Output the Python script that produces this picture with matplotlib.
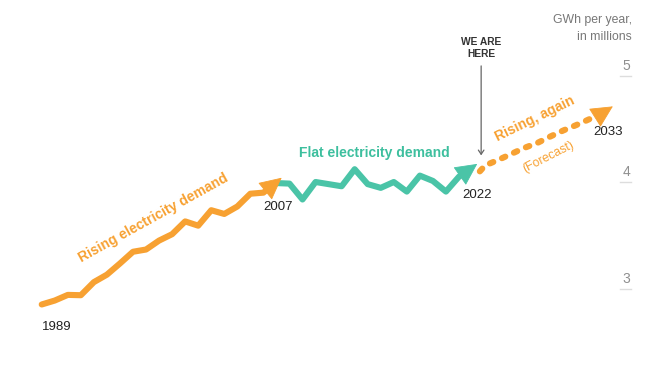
import matplotlib.pyplot as plt

# GWh per year, in millions
rising_years = list(range(1989, 2008))
rising_vals = [2.85, 2.887, 2.94, 2.937, 3.06, 3.13, 3.235, 3.345, 3.366, 3.45,
               3.51, 3.63, 3.59, 3.735, 3.70, 3.77, 3.89, 3.90, 3.99]

flat_years = list(range(2007, 2023))
flat_vals = [3.99, 3.985, 3.836, 4.00, 3.98, 3.96, 4.12, 3.98, 3.945, 4.00,
             3.91, 4.06, 4.01, 3.91, 4.05, 4.12]

forecast_years = list(range(2022, 2034))
forecast_vals = [4.12, 4.155, 4.207, 4.263, 4.32, 4.366, 4.427, 4.484, 4.535,
                 4.59, 4.648, 4.71]

y_ticks = [3, 4, 5]
year_labels = ['1989', '2007', '2022', '2033']

ORANGE = '#F7A132'
TEAL = '#4AC4A7'

plt.rcParams['font.family'] = ['Liberation Sans', 'DejaVu Sans']

fig = plt.figure(figsize=(6.65, 3.78), dpi=100)
ax = fig.add_axes([0, 0, 1, 1])
ax.set_xlim(1985.80, 2036.80)
ax.set_ylim(2.1596, 5.709)
ax.axis('off')

lw = 4.4


def series(xs, ys, color, tip_dx, tip_dy, **style):
    # line up to part of the last segment, then a small filled head to the tip
    x0, y0 = xs[-2], ys[-2]
    x1, y1 = xs[-1] + tip_dx, ys[-1] + tip_dy
    xm, ym = x0 + (x1 - x0) * 0.3, y0 + (y1 - y0) * 0.3
    ax.plot(list(xs[:-1]) + [xm], list(ys[:-1]) + [ym], color=color, lw=lw, **style)
    ax.annotate('', xy=(x1, y1), xytext=(xm, ym),
                arrowprops=dict(arrowstyle='-|>,head_length=0.6,head_width=0.3',
                                color=color, lw=0.6, shrinkA=0, shrinkB=0,
                                mutation_scale=24), zorder=4)


series(rising_years, rising_vals, ORANGE, 0.4, 0.05,
       solid_capstyle='round', solid_joinstyle='round', zorder=3)
series(flat_years, flat_vals, TEAL, 0.4, 0.05,
       solid_capstyle='round', solid_joinstyle='round', zorder=2)
series([forecast_years[0] + 0.6] + forecast_years[1:],
       [forecast_vals[0] - 0.02] + forecast_vals[1:], ORANGE, -0.2, 0.0,
       linestyle=(0, (0.6, 1.55)), dash_capstyle='round', zorder=3)

# y ticks on right
for v in y_ticks:
    ax.plot([0.932, 0.949], [v, v], transform=ax.get_yaxis_transform(),
            color='#dddddd', lw=1)
    ax.text(0.942, v + 0.09, str(v), transform=ax.get_yaxis_transform(),
            ha='center', va='center', fontsize=10, color='#8f8f8f')

ax.text(632 / 665, 1 - 20 / 378, 'GWh per year,', transform=ax.transAxes,
        ha='right', va='center', fontsize=8.8, color='#777777')
ax.text(632 / 665, 1 - 37 / 378, 'in millions', transform=ax.transAxes,
        ha='right', va='center', fontsize=8.8, color='#777777')

# year labels
ax.text(1989, 2.641, year_labels[0], ha='left', va='center', fontsize=9.5, color='#222222')
ax.text(2007.1, 3.768, year_labels[1], ha='center', va='center', fontsize=9.5, color='#222222')
ax.text(2022.4, 3.878, year_labels[2], ha='center', va='center', fontsize=9.5, color='#222222')
ax.text(2032.4, 4.47, year_labels[3], ha='center', va='center', fontsize=9.5, color='#222222')

# section labels
ax.text(1997.54, 3.662, 'Rising electricity demand', rotation=29, ha='center', va='center',
        fontsize=10, fontweight='bold', color=ORANGE, rotation_mode='anchor')
ax.text(2014.48, 4.272, 'Flat electricity demand', ha='center', va='center',
        fontsize=10, fontweight='bold', color='#3DBF9E')
ax.text(2026.83, 4.592, 'Rising, again', rotation=26, ha='center', va='center',
        fontsize=10, fontweight='bold', color=ORANGE, rotation_mode='anchor')
ax.text(2027.83, 4.235, '(Forecast)', rotation=27, ha='center', va='center',
        fontsize=8.8, color=ORANGE, rotation_mode='anchor')

# we are here
ax.text(2022.7, 5.258, 'WE ARE\nHERE', ha='center', va='center', fontsize=7.4,
        fontweight='bold', color='#333333', linespacing=1.3)
ax.annotate('', xy=(2022.7, 4.25), xytext=(2022.7, 5.09),
            arrowprops=dict(arrowstyle='->,head_length=0.3,head_width=0.2',
                            color='#666666', lw=0.9, shrinkA=0, shrinkB=0))

fig.savefig('out.png', dpi=100)
